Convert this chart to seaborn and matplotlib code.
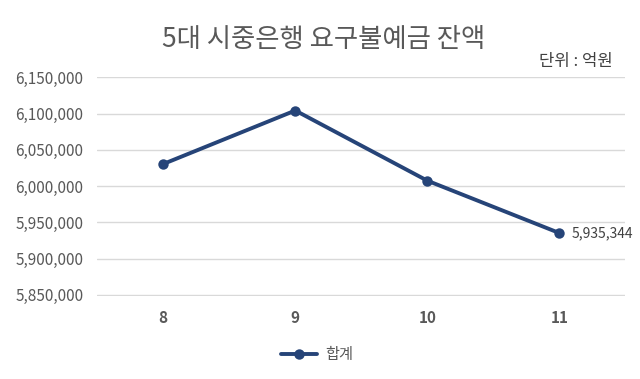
import matplotlib
matplotlib.use("Agg")
import matplotlib.pyplot as plt
import seaborn as sns
import pandas as pd
from matplotlib.ticker import FuncFormatter

months = ["8", "9", "10", "11"]
totals = [6030500, 6104200, 6007500, 5935344]
series_name = "합계"

sns.set_theme(style="white")
plt.rcParams['font.family'] = ['Noto Sans CJK KR', 'DejaVu Sans']

df = pd.DataFrame({"month": months, "value": totals, "series": series_name})

fig = plt.figure(figsize=(6.4, 3.79), dpi=100)
ax = fig.add_axes([0.152, 0.219, 0.825, 0.578])
color = "#264478"
sns.lineplot(data=df, x="month", y="value", hue="series", palette=[color],
             marker="o", markersize=7.5, markeredgewidth=0, linewidth=2.8,
             sort=False, ax=ax)

ax.set_ylim(5848500, 6150500)
ax.set_xlim(-0.5, 3.5)
ax.set_yticks(range(5850000, 6150001, 50000))
ax.yaxis.set_major_formatter(FuncFormatter(lambda v, p: f"{int(v):,}"))
ax.grid(axis="y", color="#D9D9D9", linewidth=1)
ax.set_axisbelow(True)
for s in ax.spines.values():
    s.set_visible(False)
ax.tick_params(axis="y", length=0, labelsize=11, labelcolor="#595959", pad=10)
ax.tick_params(axis="x", length=0, labelsize=11, labelcolor="#595959", pad=10)
for t in ax.get_xticklabels():
    t.set_fontweight("bold")
ax.set_xlabel("")
ax.set_ylabel("")

ax.annotate(f"{totals[-1]:,}", xy=(3, totals[-1]), xytext=(9, 0),
            textcoords="offset points", va="center", ha="left",
            fontsize=10, color="#404040")

fig.text(0.505, 0.897, "5대 시중은행 요구불예금 잔액", ha="center", va="center",
         fontsize=19, color="#595959")
fig.text(0.958, 0.838, "단위 : 억원", ha="right", va="center",
         fontsize=12, color="#404040")

handles, labels = ax.get_legend_handles_labels()
ax.get_legend().remove()
fig.legend(handles, labels, loc="center", bbox_to_anchor=(0.495, 0.065),
           frameon=False, fontsize=11, labelcolor="#595959",
           handlelength=2.4, handletextpad=0.5)

fig.savefig("out.png", dpi=100)
